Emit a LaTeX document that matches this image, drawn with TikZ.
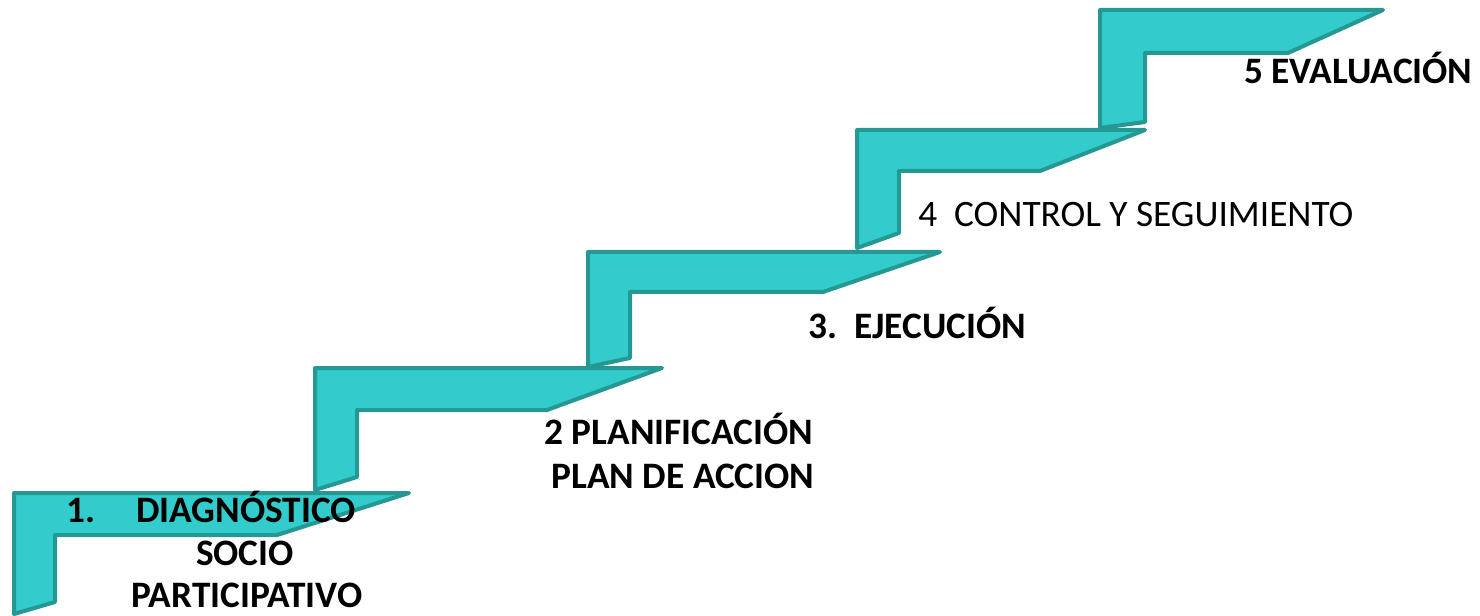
\documentclass[tikz,border=0pt]{standalone}
\usepackage{fontspec}
\setmainfont{Carlito}
\definecolor{stepfill}{RGB}{51,204,204}
\definecolor{stepline}{RGB}{38,152,148}
\begin{document}
\begin{tikzpicture}[x=0.75pt,y=-0.75pt,
  stepbox/.style={fill=stepfill,draw=stepline,line width=3pt,line join=round},
  lbl/.style={inner sep=0pt,font=\fontsize{28}{33}\selectfont\bfseries},
  lblr/.style={inner sep=0pt,font=\fontsize{28}{33}\selectfont}]
\useasboundingbox (0,0) rectangle (1480,616);
% step 1
\draw[stepbox] (14,493) -- (409,493) -- (277,535) -- (55,535) -- (55,602) -- (14,614) -- cycle;
% step 2
\draw[stepbox] (315,368) -- (662,368) -- (547,410) -- (357,410) -- (357,477) -- (315,490) -- cycle;
% step 3
\draw[stepbox] (588,252) -- (940,252) -- (823,292) -- (630,292) -- (630,358) -- (588,367) -- cycle;
% step 4
\draw[stepbox] (857,130) -- (1145,130) -- (1040,171) -- (899,171) -- (899,233) -- (857,248) -- cycle;
% step 5
\draw[stepbox] (1100,10) -- (1383,10) -- (1288,53) -- (1145,53) -- (1145,122) -- (1100,128) -- cycle;
% labels
\node[lbl,anchor=base west] (n1) at (66,522) {1.};
\node[lbl,anchor=base] (t1a) at (246,522) {DIAGNÓSTICO};
\node[lbl,anchor=base] (t1b) at (245,565) {SOCIO};
\node[lbl,anchor=base] (t1c) at (247,607) {PARTICIPATIVO};
\node[lbl,anchor=base] (t2a) at (679,444) {2 PLANIFICACIÓN};
\node[lbl,anchor=base] (t2b) at (683,488) {PLAN DE ACCION};
\node[lbl,anchor=base west] (t3) at (808,339) {3.\ \ EJECUCIÓN};
\node[lblr,anchor=base west] (t4) at (918,227) {4\ \ CONTROL Y SEGUIMIENTO};
\node[lbl,anchor=base west] (t5) at (1244,84) {5 EVALUACIÓN};
\end{tikzpicture}
\end{document}
